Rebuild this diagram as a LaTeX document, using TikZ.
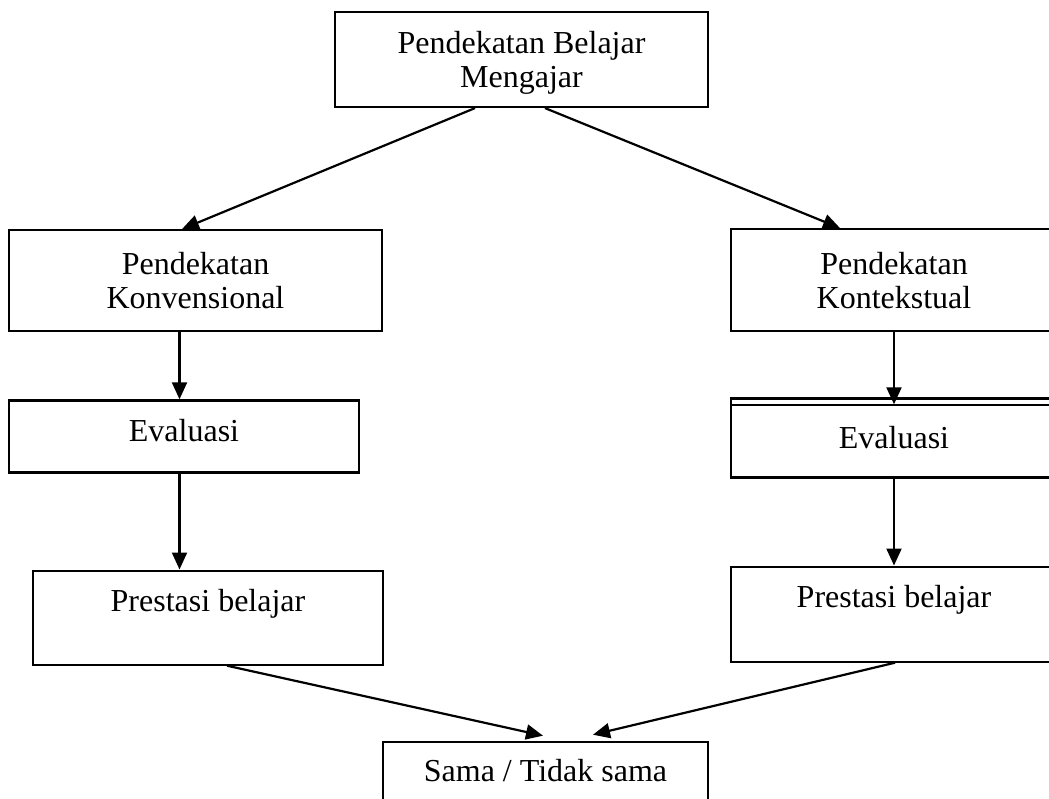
\documentclass[tikz,border=0pt]{standalone}
\usepackage{fontspec}
\setmainfont{Liberation Serif}
\usetikzlibrary{positioning, arrows.meta}
\tikzset{
	box/.style={draw, line width=2.2pt, inner sep=0pt, align=center,
		font=\fontsize{32}{34}\selectfont},
	arr/.style={-{Triangle[length=17pt,width=15pt]}, line width=2.2pt}
}

\begin{document}
\begin{tikzpicture}[x=1pt, y=-1pt]
		\useasboundingbox (0,0) rectangle (1049,799);
		
		% approach
		\node[box, minimum width=373pt, minimum height=95pt, text depth=0pt] (top) at (521.5,59.5) {Pendekatan Belajar\\Mengajar};
		
		% left branch
		\node[box, minimum width=373pt, minimum height=101pt, below=121pt of top, xshift=-326pt] (konv) {Pendekatan\\Konvensional};
		\node[box, minimum width=350pt, minimum height=72pt, text height=22pt, text depth=12pt, below=67pt of konv, xshift=-11.5pt] (evalL) {Evaluasi};
		\node[box, minimum width=350pt, minimum height=94pt, text height=22pt, text depth=34pt, below=96pt of evalL, xshift=24pt] (prestL) {Prestasi belajar};
		
		% right branch
		\node[box, minimum width=326pt, minimum height=102pt, below=120pt of top, xshift=372.5pt] (kont) {Pendekatan\\Kontekstual};
		\node[box, minimum width=326pt, minimum height=79pt, below=65pt of kont] (evalR) {Evaluasi};
		\node[box, minimum width=326pt, minimum height=95pt, text height=22pt, text depth=35pt, below=87pt of evalR] (prestR) {Prestasi belajar};
		\draw[line width=2.2pt] ([yshift=-8pt]evalR.north west) -- ([yshift=-8pt]evalR.north east);
		
		% result
		\node[box, minimum width=325pt, minimum height=80pt, text height=22pt, text depth=22pt, below=75pt of prestL, xshift=337.5pt] (sama) {Sama / Tidak sama};
		
		% connections
		\draw[arr] ([xshift=-46.5pt]top.south) -- ([xshift=-13.5pt]konv.north);
		\draw[arr] ([xshift=23.5pt]top.south) -- ([xshift=-54pt]kont.north);
		\draw[arr] ([xshift=-16pt]konv.south) -- ([xshift=-4.5pt]evalL.north);
		\draw[arr] ([xshift=-4.5pt]evalL.south) -- ([xshift=-28.5pt]prestL.north);
		\draw[arr] (kont.south) -- ([yshift=-7pt]evalR.north);
		\draw[arr] (evalR.south) -- (prestR.north);
		\draw[arr] ([xshift=19pt]prestL.south) -- ([xshift=-2.5pt, yshift=5pt]sama.north);
		\draw[arr] ([xshift=1pt]prestR.south) -- ([xshift=47.5pt, yshift=6pt]sama.north);
		
	\end{tikzpicture}
\end{document}
